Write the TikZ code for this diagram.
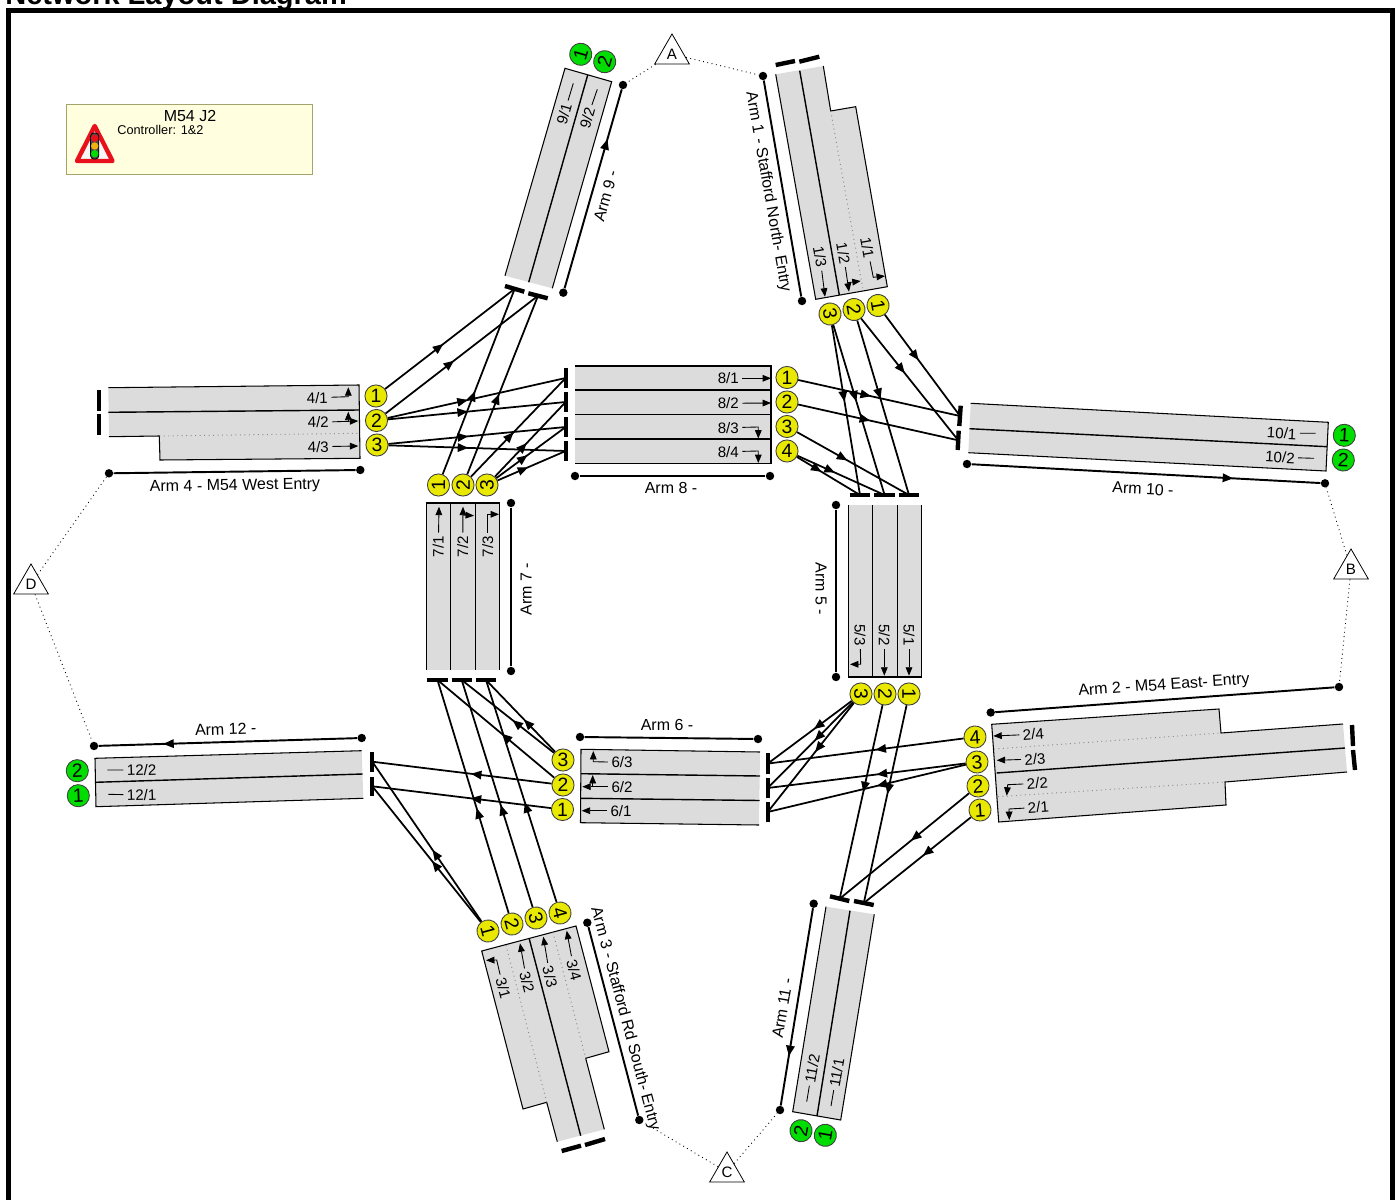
\documentclass[tikz,border=0pt]{standalone}
\usepackage{fontspec}
\setmainfont{Liberation Sans}
\usetikzlibrary{arrows.meta,decorations.markings,shapes.geometric}
\definecolor{lanegrey}{HTML}{DCDCDC}
\definecolor{sigyellow}{HTML}{E8E800}
\definecolor{siggreen}{HTML}{00DD00}
\definecolor{boxfill}{HTML}{FFFFE0}
\definecolor{boxedge}{HTML}{A3A36C}
\definecolor{signred}{HTML}{E8101A}
\definecolor{signamber}{HTML}{F0B010}
\tikzset{
  sigin/.style={circle,draw=black!75,line width=0.5pt,fill=sigyellow,minimum size=12.6pt,inner sep=0pt,font=\fontsize{11}{12}\selectfont},
  sigout/.style={sigin,fill=siggreen},
  lanetag/.style={inner sep=1pt,outer sep=1pt,font=\fontsize{8.6}{10}\selectfont},
  armtag/.style={inner sep=0pt,font=\fontsize{9.1}{11}\selectfont},
  armend/.style={circle,fill=black,minimum size=4.8pt,inner sep=0pt},
  armline/.style={line width=1.1pt},
  laneedge/.style={line width=0.6pt,line join=miter},
  lanesplit/.style={line width=0.8pt},
  lanedot/.style={line width=0.55pt,black!45,dotted},
  stopbar/.style={line width=2.5pt},
  lanemark/.style={line width=0.5pt,-{Triangle[length=4.8pt,width=3.8pt]}},
  stub/.style={line width=0.5pt},
  link/.style={line width=0.5pt,dotted},
  corner/.style={draw,fill=white,line width=0.45pt,regular polygon,regular polygon sides=3,minimum size=22.8pt,inner sep=0pt,font=\fontsize{8.6}{10}\selectfont},
  flow/.style={line width=1pt,decoration={markings,mark=at position #1 with {\arrow{Triangle[length=6pt,width=4.8pt]}}},postaction={decorate}},
  flow/.default=0.45
}
\begin{document}
\begin{tikzpicture}[x=0.02cm,y=-0.02cm]
  \useasboundingbox (0,0) rectangle (1397,1200);
  \node[anchor=base west,inner sep=0pt,font=\fontsize{16.5}{18}\selectfont\bfseries] (title) at (5,5) {Network Layout Diagram};
  \draw[line width=2.7pt] (8.7,1215) -- (8.7,10.5) -- (1392.3,10.5) -- (1392.3,1215);

  % info box
  \draw[boxedge,fill=boxfill,line width=0.5pt] (66,104.5) rectangle (312.5,174.5);
  \node[inner sep=0pt,font=\fontsize{9.1}{10}\selectfont] (boxname) at (190,116) {M54 J2};
  \node[anchor=west,inner sep=0pt,font=\fontsize{7.25}{9}\selectfont] (boxctl) at (117,129.5) {Controller: 1\&2};
  \draw[signred,fill=white!97!black,line width=2.5pt,line join=round] (94.7,126) -- (112.5,161) -- (77,161) -- cycle;
  \draw[fill=black!70,line width=0.4pt,rounded corners=1.8pt] (90.6,133) rectangle (98.8,159);
  \fill[signred] (94.7,138.3) circle (3.7);
  \fill[signamber] (94.7,146) circle (3.7);
  \fill[siggreen] (94.7,153.7) circle (3.7);

  % arm 1
  \fill[lanegrey] (775.7,74.3) -- (823.3,66) -- (830.7,111) -- (855.7,106.7) -- (887.3,286.7) -- (815.7,299.3) -- cycle;
  \draw[laneedge] (775.7,74.3) -- (815.7,299.3) -- (887.3,286.7) -- (855.7,106.7) -- (830.7,111) -- (823.3,66);
  \draw[lanesplit] (799.7,70.7) -- (839.3,295);
  \draw[lanedot] (830.7,111) -- (862.7,288);
  \draw[stopbar] (775.7,65) -- (795,61);
  \draw[stopbar] (799.3,61.7) -- (819.3,56.7);
  % arm 9
  \fill[lanegrey] (565,68.3) -- (611.7,81.7) -- (552.3,288.3) -- (505,275.7) -- cycle;
  \draw[laneedge] (505,275.7) -- (565,68.3) -- (611.7,81.7) -- (552.3,288.3);
  \draw[lanesplit] (587.7,75) -- (528.7,282.3);
  \draw[stopbar] (505,286) -- (524.3,291.7);
  \draw[stopbar] (528.3,293.3) -- (547.7,298.3);
  % arm 4
  \fill[lanegrey] (108.3,387.7) -- (359,385) -- (360,458.3) -- (160,460) -- (159.3,436) -- (109,436.7) -- cycle;
  \draw[laneedge] (108.3,387.7) -- (359,385) -- (360,458.3) -- (160,460) -- (159.3,436) -- (109,436.7);
  \draw[lanesplit] (108.3,412.3) -- (359,410);
  \draw[lanedot] (159.3,436) -- (359,433.3);
  \draw[stopbar] (98.7,390) -- (98.7,410.7);
  \draw[stopbar] (99,414.3) -- (99,435);
  % arm 8
  \fill[lanegrey] (575,366) rectangle (771,463.7);
  \draw[laneedge] (575,366) -- (771,366) -- (771,463.7) -- (575,463.7);
  \draw[lanesplit] (575,390) -- (771,390);
  \draw[lanesplit] (575,414.7) -- (771,414.7);
  \draw[lanesplit] (575,439) -- (771,439);
  \draw[stopbar] (565.7,367.7) -- (565.7,388);
  \draw[stopbar] (565.7,392) -- (565.7,412);
  \draw[stopbar] (565.7,417) -- (565.7,437);
  \draw[stopbar] (565.7,441) -- (565.7,461);
  % arm 10
  \fill[lanegrey] (970.7,403.3) -- (1328.3,422.3) -- (1326,471) -- (968.3,452.7) -- cycle;
  \draw[laneedge] (970.7,403.3) -- (1328.3,422.3) -- (1326,471) -- (968.3,452.7);
  \draw[lanesplit] (969.5,428.7) -- (1327.3,446.7);
  \draw[stopbar] (960.7,405.7) -- (959.3,426);
  \draw[stopbar] (958.7,430.7) -- (957.7,450);
  % arm 5
  \fill[lanegrey] (848.7,505) rectangle (921.7,677);
  \draw[laneedge] (848.7,505) -- (848.7,677) -- (921.7,677) -- (921.7,505);
  \draw[lanesplit] (872.7,505) -- (872.7,677);
  \draw[lanesplit] (897.3,505) -- (897.3,677);
  \draw[stopbar] (850,495) -- (870,495);
  \draw[stopbar] (874.3,495) -- (895,495);
  \draw[stopbar] (899,495) -- (919,495);
  % arm 7
  \fill[lanegrey] (426.3,503) rectangle (499.7,670);
  \draw[laneedge] (426.3,670) -- (426.3,503) -- (499.7,503) -- (499.7,670);
  \draw[lanesplit] (450.7,503) -- (450.7,670);
  \draw[lanesplit] (475.3,503) -- (475.3,670);
  \draw[stopbar] (427.3,680) -- (447.7,680);
  \draw[stopbar] (451.7,680) -- (471.7,680);
  \draw[stopbar] (476,680) -- (496,680);
  % arm 6
  \fill[lanegrey] (581,749.3) -- (760,752) -- (759,825) -- (580.5,822.7) -- cycle;
  \draw[laneedge] (760,752) -- (581,749.3) -- (580.5,822.7) -- (759,825);
  \draw[lanesplit] (581,773.7) -- (760,776);
  \draw[lanesplit] (580.7,798.3) -- (759.5,800.5);
  \draw[stopbar] (767.7,753.3) -- (767.7,774);
  \draw[stopbar] (767.7,778) -- (767.7,797.7);
  \draw[stopbar] (767.7,802) -- (767.7,822);
  % arm 12
  \fill[lanegrey] (95,758.3) -- (361.7,750.7) -- (363.3,798.3) -- (96,806.7) -- cycle;
  \draw[laneedge] (361.7,750.7) -- (95,758.3) -- (96,806.7) -- (363.3,798.3);
  \draw[lanesplit] (95.3,782.3) -- (362.7,774);
  \draw[stopbar] (372.3,751.7) -- (372.3,771.7);
  \draw[stopbar] (372.3,776.7) -- (372.3,796);
  % arm 2
  \fill[lanegrey] (991.7,724.3) -- (1219,709) -- (1221,733) -- (1343,724) -- (1347,772) -- (1225,782) -- (1226,805) -- (998.7,822) -- cycle;
  \draw[laneedge] (1343,724) -- (1221,733) -- (1219,709) -- (991.7,724.3) -- (998.7,822) -- (1226,805) -- (1225,782) -- (1347,772);
  \draw[lanesplit] (996.7,773) -- (1345,748);
  \draw[lanedot] (994,749) -- (1221,733);
  \draw[lanedot] (998,796.7) -- (1225,782);
  \draw[stopbar] (1352,725) -- (1353,746);
  \draw[stopbar] (1353,750) -- (1355,770);
  % arm 11
  \fill[lanegrey] (826,906.7) -- (874.3,914.3) -- (840.7,1120) -- (792.7,1111.7) -- cycle;
  \draw[laneedge] (826,906.7) -- (792.7,1111.7) -- (840.7,1120) -- (874.3,914.3);
  \draw[lanesplit] (850,910.7) -- (817,1116);
  \draw[stopbar] (830,896.3) -- (849.3,901);
  \draw[stopbar] (854,901) -- (873.7,905);
  % arm 3
  \fill[lanegrey] (481.7,951) -- (576,926) -- (609,1051.7) -- (585.7,1058.3) -- (604.3,1129.3) -- (557.3,1141.7) -- (546.7,1102.3) -- (523,1109) -- cycle;
  \draw[laneedge] (557.3,1141.7) -- (546.7,1102.3) -- (523,1109) -- (481.7,951) -- (576,926) -- (609,1051.7) -- (585.7,1058.3) -- (604.3,1129.3);
  \draw[lanesplit] (529.3,939) -- (580.7,1135.7);
  \draw[lanedot] (506,945.3) -- (546.7,1102.3);
  \draw[lanedot] (553,932.3) -- (585.7,1058.3);
  \draw[stopbar] (561.7,1151) -- (581,1145.7);
  \draw[stopbar] (585,1145) -- (605,1139);

  % signals
  \node[sigin,rotate=-80] (s13) at (830,314) {3};
  \node[sigin,rotate=-80] (s12) at (854,309.5) {2};
  \node[sigin,rotate=-80] (s11) at (878,305.5) {1};
  \node[sigout,rotate=74] (s91) at (580.7,54.3) {1};
  \node[sigout,rotate=74] (s92) at (604.7,61.7) {2};
  \node[sigin] (s41) at (376,396) {1};
  \node[sigin] (s42) at (376.5,420.5) {2};
  \node[sigin] (s43) at (377,445) {3};
  \node[sigin] (s81) at (787,377.5) {1};
  \node[sigin] (s82) at (787,402) {2};
  \node[sigin] (s83) at (787,426.5) {3};
  \node[sigin] (s84) at (787,451) {4};
  \node[sigout,rotate=-3] (s101) at (1344.3,435.3) {1};
  \node[sigout,rotate=-3] (s102) at (1343.3,460) {2};
  \node[sigin,rotate=-90] (s53) at (861,694) {3};
  \node[sigin,rotate=-90] (s52) at (885,694) {2};
  \node[sigin,rotate=-90] (s51) at (909,694) {1};
  \node[sigin,rotate=90] (s71) at (438.5,485) {1};
  \node[sigin,rotate=90] (s72) at (463,485) {2};
  \node[sigin,rotate=90] (s73) at (487,485) {3};
  \node[sigin] (s63) at (563,760) {3};
  \node[sigin] (s62) at (563,785) {2};
  \node[sigin] (s61) at (562.5,809.5) {1};
  \node[sigout,rotate=2] (s122) at (77.3,770.7) {2};
  \node[sigout,rotate=2] (s121) at (78.3,795.7) {1};
  \node[sigin,rotate=4] (s24) at (975,737) {4};
  \node[sigin,rotate=4] (s23) at (977,762) {3};
  \node[sigin,rotate=4] (s22) at (978,786) {2};
  \node[sigin,rotate=4] (s21) at (980,810) {1};
  \node[sigout,rotate=80] (s112) at (801,1130.7) {2};
  \node[sigout,rotate=80] (s111) at (825.3,1135.3) {1};
  \node[sigin,rotate=-75] (s31) at (488,931) {1};
  \node[sigin,rotate=-75] (s32) at (512,924) {2};
  \node[sigin,rotate=-75] (s33) at (536,918) {3};
  \node[sigin,rotate=-75] (s34) at (560,913) {4};

  % stop line ends of the links
  \coordinate (b91) at (514.7,288.8);
  \coordinate (b92) at (538,295.8);
  \coordinate (b81) at (565.7,378);
  \coordinate (b82) at (565.7,402);
  \coordinate (b83) at (565.7,427);
  \coordinate (b84) at (565.7,451);
  \coordinate (b101) at (960,416);
  \coordinate (b102) at (958.2,440.3);
  \coordinate (b51) at (860,495);
  \coordinate (b52) at (884.6,495);
  \coordinate (b53) at (909,495);
  \coordinate (b61) at (767.7,763.6);
  \coordinate (b62) at (767.7,788);
  \coordinate (b63) at (767.7,812);
  \coordinate (b71) at (437.5,680);
  \coordinate (b72) at (461.7,680);
  \coordinate (b73) at (486,680);
  \coordinate (b121) at (372.3,761.7);
  \coordinate (b122) at (372.3,786.3);
  \coordinate (b111) at (839.7,898.7);
  \coordinate (b112) at (863.8,903);

  % links
  \draw[flow] (s41) -- (b91);
  \draw[flow] (s42) -- (b92);
  \draw[flow] (s71) -- (b91);
  \draw[flow] (s72) -- (b92);
  \draw[flow] (s42) -- (b81);
  \draw[flow] (s42) -- (b82);
  \draw[flow] (s43) -- (b83);
  \draw[flow] (s43) -- (b84);
  \draw[flow] (s72) -- (b81);
  \draw[flow] (s73) -- (b82);
  \draw[flow] (s73) -- (b83);
  \draw[flow] (s73) -- (b84);
  \draw[flow] (s81) -- (b101);
  \draw[flow] (s82) -- (b102);
  \draw[flow] (s83) -- (b53);
  \draw[flow=0.43] (s84) -- (b52);
  \draw[flow=0.39] (s84) -- (b51);
  \draw[flow] (s13) -- (b51);
  \draw[flow] (s13) -- (b52);
  \draw[flow] (s12) -- (b53);
  \draw[flow] (s12) -- (b102);
  \draw[flow] (s11) -- (b101);
  \draw[flow] (s53) -- (b61);
  \draw[flow] (s53) -- (b62);
  \draw[flow] (s53) -- (b63);
  \draw[flow] (s52) -- (b111);
  \draw[flow] (s51) -- (b112);
  \draw[flow] (s24) -- (b61);
  \draw[flow] (s23) -- (b62);
  \draw[flow] (s23) -- (b63);
  \draw[flow] (s22) -- (b111);
  \draw[flow] (s21) -- (b112);
  \draw[flow] (s63) -- (b73);
  \draw[flow] (s63) -- (b72);
  \draw[flow] (s62) -- (b71);
  \draw[flow] (s62) -- (b121);
  \draw[flow] (s61) -- (b122);
  \draw[flow] (s31) -- (b121);
  \draw[flow] (s31) -- (b122);
  \draw[flow] (s32) -- (b71);
  \draw[flow] (s33) -- (b72);
  \draw[flow] (s34) -- (b73);

  % lane tags and lane arrows
  \node[lanetag,rotate=-80] (l13) at (820,256.7) {1/3};
  \node[lanetag,rotate=-80] (l12) at (843.3,253.3) {1/2};
  \node[lanetag,rotate=-80] (l11) at (867.3,247.7) {1/1};
  \coordinate (e13) at (825,296.7);
  \coordinate (e12) at (849,291.7);
  \coordinate (k12) at (848,282.7);
  \coordinate (f12) at (860.7,281);
  \coordinate (e11) at (885,276);
  \draw[lanemark] (l13) -- (e13);
  \draw[lanemark] (l12) -- (e12);
  \draw[lanemark] (k12) -- (f12);
  \draw[lanemark] (l11) -- (873.3,277.3) -- (e11);

  \node[lanetag,rotate=74] (l91) at (564,114) {9/1};
  \node[lanetag,rotate=74] (l92) at (587.3,118.3) {9/2};
  \coordinate (e91) at (573.3,83.3);
  \coordinate (e92) at (597.3,89.3);
  \draw[stub] (l91) -- (e91);
  \draw[stub] (l92) -- (e92);

  \node[lanetag,rotate=1] (l41) at (317.3,397.7) {4/1};
  \node[lanetag,rotate=1] (l42) at (318.3,422.3) {4/2};
  \node[lanetag,rotate=1] (l43) at (318.3,446.7) {4/3};
  \coordinate (e41) at (348.3,387.3);
  \coordinate (e42) at (358.3,421);
  \coordinate (k42) at (348.3,421);
  \coordinate (f42) at (348.3,411.7);
  \coordinate (e43) at (358.3,446);
  \draw[lanemark] (l41) -- (348.3,396.7) -- (e41);
  \draw[lanemark] (l42) -- (e42);
  \draw[lanemark] (k42) -- (f42);
  \draw[lanemark] (l43) -- (e43);

  \node[lanetag] (l81) at (728.3,378.3) {8/1};
  \node[lanetag] (l82) at (728.3,403.3) {8/2};
  \node[lanetag] (l83) at (728.3,427.7) {8/3};
  \node[lanetag] (l84) at (728.3,451.7) {8/4};
  \coordinate (e81) at (771,378.3);
  \coordinate (e82) at (771,403);
  \coordinate (e83) at (758.3,438.5);
  \coordinate (e84) at (758.3,463);
  \draw[lanemark] (l81) -- (e81);
  \draw[lanemark] (l82) -- (e82);
  \draw[lanemark] (l83) -- (758.3,427) -- (e83);
  \draw[lanemark] (l84) -- (758.3,451) -- (e84);

  \node[lanetag,rotate=-3] (l101) at (1281.7,433.3) {10/1};
  \node[lanetag,rotate=-3] (l102) at (1280,457.3) {10/2};
  \coordinate (e101) at (1315.7,433.3);
  \coordinate (e102) at (1314,458.3);
  \draw[stub] (l101) -- (e101);
  \draw[stub] (l102) -- (e102);

  \node[lanetag,rotate=-90] (l53) at (860,635) {5/3};
  \node[lanetag,rotate=-90] (l52) at (884.3,635) {5/2};
  \node[lanetag,rotate=-90] (l51) at (909,635) {5/1};
  \coordinate (e53) at (850,664.3);
  \coordinate (e52) at (884.3,675.7);
  \coordinate (e51) at (909,675.7);
  \draw[lanemark] (l53) -- (860.7,664.3) -- (e53);
  \draw[lanemark] (l52) -- (e52);
  \draw[lanemark] (l51) -- (e51);

  \node[lanetag,rotate=90] (l71) at (438.3,546.7) {7/1};
  \node[lanetag,rotate=90] (l72) at (462.7,546.7) {7/2};
  \node[lanetag,rotate=90] (l73) at (487.7,546.7) {7/3};
  \coordinate (e71) at (439,506.7);
  \coordinate (e72) at (463,506.7);
  \coordinate (k72) at (463,515);
  \coordinate (f72) at (474,515.7);
  \coordinate (e73) at (499,514.3);
  \draw[lanemark] (l71) -- (e71);
  \draw[lanemark] (l72) -- (e72);
  \draw[lanemark] (k72) -- (f72);
  \draw[lanemark] (l73) -- (487.7,514.3) -- (e73);

  \node[lanetag] (l63) at (622,762.3) {6/3};
  \node[lanetag] (l62) at (622,786.7) {6/2};
  \node[lanetag] (l61) at (621,810.7) {6/1};
  \coordinate (e63) at (593.3,751);
  \coordinate (e62) at (582.3,786.7);
  \coordinate (k62) at (592.7,786);
  \coordinate (f62) at (592.7,775);
  \coordinate (e61) at (581.7,810.7);
  \draw[lanemark] (l63) -- (593.3,761.7) -- (e63);
  \draw[lanemark] (l62) -- (e62);
  \draw[lanemark] (k62) -- (f62);
  \draw[lanemark] (l61) -- (e61);

  \node[lanetag,rotate=2] (l122) at (141.7,770) {12/2};
  \node[lanetag,rotate=2] (l121) at (141.7,795) {12/1};
  \coordinate (e122) at (107.3,770);
  \coordinate (e121) at (108.3,794.3);
  \draw[stub] (l122) -- (e122);
  \draw[stub] (l121) -- (e121);

  \node[lanetag,rotate=4] (l24) at (1033.3,734.3) {2/4};
  \node[lanetag,rotate=4] (l23) at (1035,759) {2/3};
  \node[lanetag,rotate=4] (l22) at (1037.3,783.3) {2/2};
  \node[lanetag,rotate=4] (l21) at (1038.3,807.3) {2/1};
  \coordinate (e24) at (993.3,736);
  \coordinate (e23) at (996.7,760.3);
  \coordinate (e22) at (1006.7,795.7);
  \coordinate (e21) at (1009.3,820);
  \draw[lanemark] (l24) -- (e24);
  \draw[lanemark] (l23) -- (e23);
  \draw[lanemark] (l22) -- (1007.7,784.7) -- (e22);
  \draw[lanemark] (l21) -- (1009,809) -- (e21);

  \node[lanetag,rotate=80] (l112) at (812.3,1068.3) {11/2};
  \node[lanetag,rotate=80] (l111) at (836.7,1072.7) {11/1};
  \coordinate (e112) at (806.7,1101.7);
  \coordinate (e111) at (831,1106);
  \draw[stub] (l112) -- (e112);
  \draw[stub] (l111) -- (e111);

  \node[lanetag,rotate=-75] (l31) at (503.3,988.3) {3/1};
  \node[lanetag,rotate=-75] (l32) at (527,982.3) {3/2};
  \node[lanetag,rotate=-75] (l33) at (550,976.7) {3/3};
  \node[lanetag,rotate=-75] (l34) at (574,970) {3/4};
  \coordinate (e31) at (486,960.3);
  \coordinate (e32) at (520,943.3);
  \coordinate (e33) at (543.3,936.7);
  \coordinate (e34) at (566.7,930.7);
  \draw[lanemark] (l31) -- (496.7,960) -- (e31);
  \draw[lanemark] (l32) -- (e32);
  \draw[lanemark] (l33) -- (e33);
  \draw[lanemark] (l34) -- (e34);

  % arm lines
  \node[armend] (a1a) at (763,76) {};
  \node[armend] (a1b) at (802,301) {};
  \node[armend] (a9a) at (623,85) {};
  \node[armend] (a9b) at (563.3,292.7) {};
  \node[armend] (a4a) at (109,473.3) {};
  \node[armend] (a4b) at (360.3,470) {};
  \node[armend] (a8a) at (575,476) {};
  \node[armend] (a8b) at (770,476) {};
  \node[armend] (a10a) at (967,464) {};
  \node[armend] (a10b) at (1325,483.3) {};
  \node[armend] (a5a) at (836,505) {};
  \node[armend] (a5b) at (836,677) {};
  \node[armend] (a7a) at (511,503) {};
  \node[armend] (a7b) at (511,671) {};
  \node[armend] (a6a) at (580,737) {};
  \node[armend] (a6b) at (758,739) {};
  \node[armend] (a12a) at (361.7,738) {};
  \node[armend] (a12b) at (94,746) {};
  \node[armend] (a2a) at (990.7,712.5) {};
  \node[armend] (a2b) at (1339,687) {};
  \node[armend] (a11a) at (813.7,903.7) {};
  \node[armend] (a11b) at (780,1110) {};
  \node[armend] (a3a) at (587.3,922.7) {};
  \node[armend] (a3b) at (639.3,1120) {};
  \draw[armline] (a1a) -- (a1b);
  \draw[armline] (a4a) -- (a4b);
  \draw[armline] (a8a) -- (a8b);
  \draw[armline] (a5a) -- (a5b);
  \draw[armline] (a7a) -- (a7b);
  \draw[armline] (a6a) -- (a6b);
  \draw[armline] (a2a) -- (a2b);
  \draw[armline] (a3a) -- (a3b);
  \draw[flow=0.75,armline] (a9b) -- (a9a);
  \draw[flow=0.75,armline] (a10a) -- (a10b);
  \draw[flow=0.75,armline] (a12a) -- (a12b);
  \draw[flow=0.75,armline] (a11a) -- (a11b);
  \node[armtag,rotate=-80] (t1) at (768,192) {Arm 1 - Stafford North- Entry};
  \node[armtag,rotate=74] (t9) at (605.7,196) {Arm 9 -};
  \node[armtag,rotate=1] (t4) at (235,486.5) {Arm 4 - M54 West Entry};
  \node[armtag] (t8) at (671,488) {Arm 8 -};
  \node[armtag,rotate=-3] (t10) at (1143,489) {Arm 10 -};
  \node[armtag,rotate=-90] (t5) at (821,589) {Arm 5 -};
  \node[armtag,rotate=90] (t7) at (526,589) {Arm 7 -};
  \node[armtag] (t6) at (667,725) {Arm 6 -};
  \node[armtag,rotate=2] (t12) at (225.7,729) {Arm 12 -};
  \node[armtag,rotate=4] (t2) at (1164,686) {Arm 2 - M54 East- Entry};
  \node[armtag,rotate=80] (t11) at (782.3,1008.3) {Arm 11 -};
  \node[armtag,rotate=-75] (t3) at (625,1019) {Arm 3 - Stafford Rd South- Entry};

  % corners
  \node[corner] (cA) at (672,54) {A};
  \node[corner] (cB) at (1351,569) {B};
  \node[corner] (cC) at (727,1172) {C};
  \node[corner] (cD) at (31,584) {D};
  \draw[link] (cA) -- (a9a);
  \draw[link] (cA) -- (a1a);
  \draw[link] (cB) -- (a10b);
  \draw[link] (cB) -- (a2b);
  \draw[link] (cC) -- (a3b);
  \draw[link] (cC) -- (a11b);
  \draw[link] (cD) -- (a4a);
  \draw[link] (cD) -- (a12b);
\end{tikzpicture}
\end{document}
